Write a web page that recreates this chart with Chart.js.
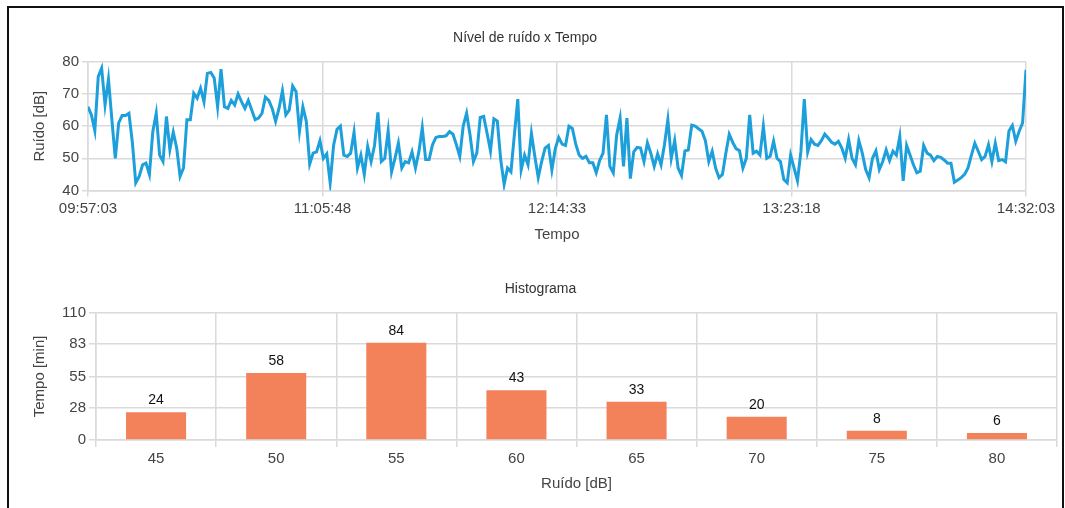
<!DOCTYPE html>
<html>
<head>
<meta charset="utf-8">
<script src="https://cdn.jsdelivr.net/npm/chart.js@4.4.1/dist/chart.umd.min.js"></script>
<style>
  html, body { margin: 0; padding: 0; background: #fff; }
  body { width: 1065px; height: 508px; position: relative; overflow: hidden; }
  #moldura { position: absolute; left: 7px; top: 6px; width: 1053px; height: 540px; border: 2px solid #111; }
  .grafico { position: absolute; left: 0; }
</style>
</head>
<body>
<div id="moldura"></div>
<div class="grafico" style="top:0; width:1065px; height:250px;"><canvas id="ruido"></canvas></div>
<div class="grafico" style="top:250px; width:1065px; height:258px;"><canvas id="histograma"></canvas></div>
<script>
// leituras (1 por minuto) a partir de 09:57:03
var inicio = '09:57:03'
var intervaloSeg = 60
var ruido = [
  66, 63.5, 58.6, 75.4, 78, 66.6, 74.6, 62, 50, 61, 63.3, 63.3, 64, 55, 42.4, 44.4, 48, 48.5, 45, 58.3,
  64, 51, 49, 63, 52.7, 58.1, 53.2, 44.4, 47, 62, 62, 70.2, 68.7, 71.8, 67.6,
  76.4, 76.7, 75, 66, 77.7, 66, 65.5, 68, 66.6, 70, 67.6, 65.5, 68, 65, 62, 62.5, 64, 69, 68, 65.5,
  61.5, 65.5, 71, 63.5, 65, 72.5, 70.7, 58.4, 66, 61.5, 48.2, 51.6, 52, 55.5, 50,
  51.4, 42.4, 54, 59, 60, 51, 50.6, 51.6, 58.1, 47, 51, 45, 53.7, 49, 54, 64.3, 49, 50, 58.5, 45.8,
  50, 54.7, 47, 49, 48.6, 52, 47, 52, 59.5, 49.6, 49.6, 54.2, 56.5, 56.8,
  56.8, 57, 58.3, 57.5, 54.2, 50.6, 60, 64, 57.3, 49, 51.7, 62.7, 63, 57.8, 52.3, 62.3, 61.6, 49.6, 41.9, 47,
  45.8, 57.3, 68.4, 46.4, 51, 48, 57.8, 50.6, 44, 49, 53.2, 54, 46.4,
  53, 56.5, 54.4, 54, 60, 59.3, 54.4, 51, 50, 50.6, 48.6, 48.6, 45.5, 49.3, 51.6, 63.5, 47.5, 45.5, 57.3, 62.5,
  47.5, 62.5, 43.7, 52, 53.4, 53.2, 49, 54.8, 51.6, 47.5, 51.4, 48, 54.2, 62,
  50, 55.5, 47, 44.7, 52.3, 52.6, 60.3, 60, 59.2, 58.4, 55.5, 49, 52.2, 47, 44, 45, 51.6, 57.5, 55, 53,
  52.4, 47, 50, 63.5, 51.6, 52.2, 51, 60, 50, 50.6, 55.3, 50, 49,
  43.4, 42.4, 51, 47, 43, 52, 68.4, 52, 55.8, 54.4, 54, 55.5, 57.5, 56.3, 55, 54.4, 55.3, 53.2, 50, 55.8,
  50, 48, 55.5, 51.6, 46.5, 44, 50, 52.3, 46.5, 49, 52.6, 49.3, 52.2,
  51, 56.8, 43, 54, 51, 48, 45.5, 46, 54, 51.6, 51, 49.3, 50.6, 50.3, 49.5, 48.5, 48.5, 42.6, 43.3, 44,
  45, 47, 51, 54.7, 52.2, 49.6, 50.6, 54.2, 49, 54.7, 49.3, 49.6, 48.9, 58.5, 60.2, 55.3, 58.4, 61, 77.5
]
var ticksTempo = ['09:57:03', '11:05:48', '12:14:33', '13:23:18', '14:32:03']
var ticksRuido = [40, 50, 60, 70, 80]

var faixas = ['45', '50', '55', '60', '65', '70', '75', '80']
var minutos = [24, 58, 84, 43, 33, 20, 8, 6]
var ticksMin = [0, 28, 55, 83, 110]

function paraSeg(s) {
    var p = s.split(':')
    return (+p[0]) * 3600 + (+p[1]) * 60 + (+p[2])
}
function paraHora(seg) {
    seg = Math.round(seg)
    var h = Math.floor(seg / 3600), m = Math.floor(seg % 3600 / 60), s = seg % 60
    return [h, m, s].map(function(v){ return (v < 10 ? '0' : '') + v }).join(':')
}

var grade = '#dadada'
var corTexto = '#444'
var fonteTick = { family: 'Liberation Sans, Arial, sans-serif', size: 15 }
var fonteTitulo = { family: 'Liberation Sans, Arial, sans-serif', size: 14, weight: 'normal' }
Chart.defaults.font.family = 'Liberation Sans, Arial, sans-serif'
Chart.defaults.color = corTexto

var t0 = paraSeg(inicio)
var pontos = []
ruido.forEach(function(v, i){ pontos.push({ x: t0 + i * intervaloSeg, y: v }) })

new Chart(document.getElementById('ruido'), {
    type: 'line',
    data: {
        datasets: [{
            data: pontos,
            borderColor: '#1c9fdb',
            borderWidth: 3,
            pointRadius: 0,
            tension: 0,
            fill: false
        }]
    },
    options: {
        responsive: true,
        maintainAspectRatio: false,
        animation: false,
        layout: { padding: { left: 24, right: 39, top: 30, bottom: 4.5 } },
        plugins: {
            legend: { display: false },
            tooltip: { enabled: false },
            title: { display: true, text: 'Nível de ruído x Tempo', color: '#333', font: fonteTitulo, padding: { top: 0, bottom: 15 } }
        },
        scales: {
            x: {
                type: 'linear',
                min: paraSeg(ticksTempo[0]),
                max: paraSeg(ticksTempo[ticksTempo.length - 1]),
                afterBuildTicks: function(s){ s.ticks = ticksTempo.map(function(t){ return { value: paraSeg(t) } }) },
                afterFit: function(s){ s.height = 55 },
                grid: { color: grade, lineWidth: 1.5, tickLength: 6 },
                border: { color: grade, width: 1.5 },
                ticks: { color: corTexto, font: fonteTick, padding: 3, maxRotation: 0, callback: function(v){ return paraHora(v) } },
                title: { display: true, text: 'Tempo', color: corTexto, font: fonteTick, padding: { top: 0, bottom: 2 } }
            },
            y: {
                min: 40,
                max: 80,
                afterBuildTicks: function(s){ s.ticks = ticksRuido.map(function(v){ return { value: v } }) },
                afterFit: function(s){ s.width = 64 },
                grid: { color: grade, lineWidth: 1.5, tickLength: 6 },
                border: { color: grade, width: 1.5 },
                ticks: { color: corTexto, font: fonteTick, padding: 3 },
                title: { display: true, text: 'Ruído [dB]', color: corTexto, font: fonteTick, padding: { top: 7, bottom: 0 } }
            }
        }
    }
})

// valores em cima das barras
var rotulos = {
    id: 'rotulos',
    afterDatasetsDraw: function(chart) {
        var ctx = chart.ctx
        var meta = chart.getDatasetMeta(0)
        ctx.save()
        ctx.fillStyle = '#111'
        ctx.font = '14px Liberation Sans, Arial, sans-serif'
        ctx.textAlign = 'center'
        ctx.textBaseline = 'middle'
        meta.data.forEach(function(bar, i){
            ctx.fillText(chart.data.datasets[0].data[i], bar.x, bar.y - 12)
        })
        ctx.restore()
    }
}

new Chart(document.getElementById('histograma'), {
    type: 'bar',
    data: {
        labels: faixas,
        datasets: [{
            data: minutos,
            backgroundColor: '#f3825a',
            barPercentage: 0.5,
            categoryPercentage: 1
        }]
    },
    plugins: [rotulos],
    options: {
        responsive: true,
        maintainAspectRatio: false,
        animation: false,
        layout: { padding: { left: 24, right: 8, top: 31, bottom: 13 } },
        plugins: {
            legend: { display: false },
            tooltip: { enabled: false },
            title: { display: true, text: 'Histograma', color: '#333', font: fonteTitulo, padding: { top: 0, bottom: 15 } }
        },
        scales: {
            x: {
                afterFit: function(s){ s.height = 55 },
                grid: { color: grade, lineWidth: 1.5, tickLength: 7, offset: true },
                border: { color: grade, width: 1.5 },
                ticks: { color: corTexto, font: fonteTick, padding: 3 },
                title: { display: true, text: 'Ruído [dB]', color: corTexto, font: fonteTick, padding: { top: 0, bottom: 2 } }
            },
            y: {
                min: 0,
                max: 110,
                afterBuildTicks: function(s){ s.ticks = ticksMin.map(function(v){ return { value: v } }) },
                afterFit: function(s){ s.width = 72 },
                grid: { color: grade, lineWidth: 1.5, tickLength: 7 },
                border: { color: grade, width: 1.5 },
                ticks: { color: corTexto, font: fonteTick, padding: 3 },
                title: { display: true, text: 'Tempo [min]', color: corTexto, font: fonteTick, padding: { top: 7, bottom: 0 } }
            }
        }
    }
})
</script>
</body>
</html>
